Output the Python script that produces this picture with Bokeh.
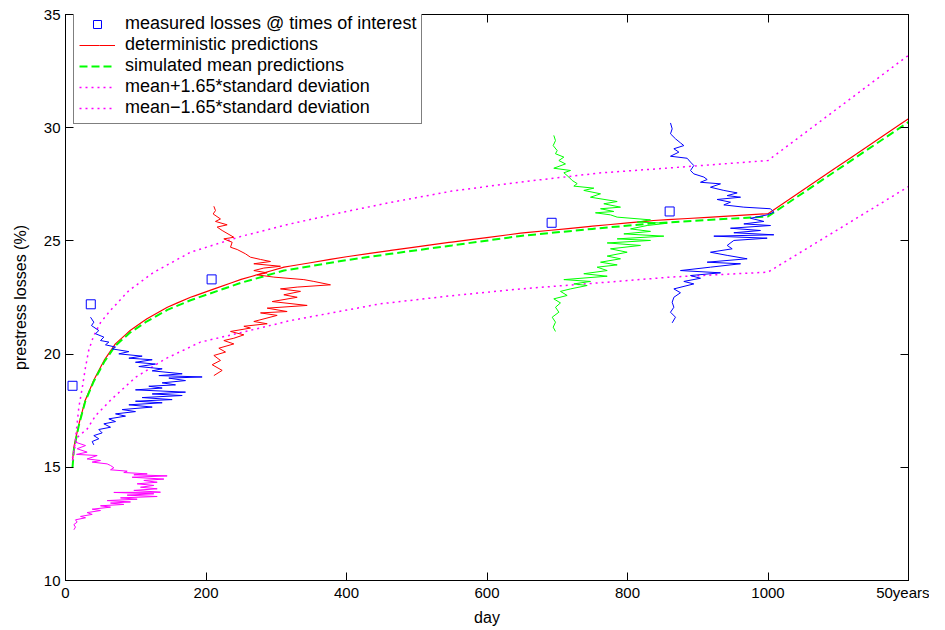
from bokeh.plotting import figure
from bokeh.models import Legend, LegendItem, LinearAxis, FixedTicker, Range1d
from bokeh.embed import file_html
from bokeh.resources import INLINE

FONT = "Liberation Sans"

# ---------------- data ----------------
x_ticks = [0, 200, 400, 600, 800, 1000, 1200]
x_tick_labels = {1200: "50years"}
y_ticks = [10, 15, 20, 25, 30, 35]

meas_day = [10, 36, 208, 692, 860]
meas_val = [18.6, 22.2, 23.3, 25.8, 26.3]

det_day = [10, 12, 19, 28, 40, 55, 71, 92, 116, 145, 178, 250, 311, 400, 463, 550, 648, 750, 837, 1000, 1200]
det_val = [15.3, 15.9, 16.9, 17.95, 18.83, 19.72, 20.45, 21.04, 21.56, 22.07, 22.51, 23.3, 23.84, 24.3,
           24.58, 24.95, 25.34, 25.65, 25.9, 26.2, 30.4]

sim_day = [10, 12, 19, 28, 40, 55, 71, 92, 116, 145, 178, 250, 311, 400, 463, 550, 648, 750, 837, 1000, 1200]
sim_val = [15.0, 15.8, 16.85, 17.9, 18.78, 19.65, 20.37, 20.95, 21.45, 21.95, 22.38, 23.15, 23.69, 24.15,
           24.43, 24.8, 25.22, 25.53, 25.78, 26.08, 30.25]

up_day = [10, 13, 16, 19, 24, 28.5, 33, 40, 50, 64, 90, 125, 178, 250, 320, 400, 463, 550, 648, 760, 850, 1000, 1200]
up_val = [15.4, 15.9, 16.77, 17.65, 18.54, 19.42, 20.16, 20.8, 21.4, 21.93, 22.8, 23.6, 24.5, 25.2, 25.75,
          26.3, 26.7, 27.2, 27.6, 28.0, 28.2, 28.55, 33.2]

lo_day = [10, 12, 17, 31, 43, 66, 100, 142, 192, 250, 320, 448, 550, 648, 760, 861, 1000, 1200]
lo_val = [15.3, 15.74, 16.33, 16.7, 17.29, 18.02, 18.98, 19.79, 20.53, 20.95, 21.48, 22.22, 22.58, 22.88,
          23.15, 23.4, 23.62, 27.4]

# sampled distributions drawn at the times of interest
dist1_day = [14.2, 28.5, 16.6, 30.8, 15.7, 45.1, 30.8, 49.8, 38.0, 59.3, 64.1, 68.8, 64.1, 87.8, 83.0, 116.3,
             97.3, 144.7, 94.9, 140.0, 111.5, 130.5, 102.0, 125.7, 106.8, 130.5, 97.3, 135.2, 68.8, 125.7,
             87.8, 130.5, 78.3, 102.0, 59.3, 92.5, 64.1, 83.0, 49.8, 64.1, 38.0, 49.8, 30.8, 38.0, 21.4,
             28.5, 14.2, 16.6, 11.9, 14.2, 11.9]
dist1_val = [16.11, 15.96, 15.82, 15.67, 15.57, 15.52, 15.37, 15.30, 15.23, 15.15, 15.08, 14.98, 14.89, 14.83,
             14.77, 14.71, 14.67, 14.62, 14.56, 14.48, 14.42, 14.34, 14.27, 14.20, 14.12, 14.05, 13.98, 13.90,
             13.89, 13.83, 13.77, 13.71, 13.65, 13.59, 13.53, 13.47, 13.42, 13.36, 13.30, 13.24, 13.15, 13.09,
             13.00, 12.92, 12.83, 12.77, 12.68, 12.58, 12.47, 12.36, 12.24]

dist2_day = [35.6, 40.3, 37.0, 47.4, 42.7, 54.6, 49.8, 61.7, 56.9, 71.2, 66.4, 90.2, 75.9, 109.1, 90.2, 123.4,
             99.6, 128.1, 104.4, 137.6, 123.4, 166.1, 132.9, 194.5, 147.1, 170.8, 137.6, 156.6, 118.6, 137.6,
             99.6, 170.8, 123.4, 166.1, 109.1, 151.8, 99.6, 137.6, 90.2, 123.4, 80.7, 99.6, 71.2, 85.4, 61.7,
             71.2, 54.6, 64.1, 47.4, 52.2, 40.3, 47.4, 38.0, 40.3]
dist2_val = [21.63, 21.41, 21.26, 21.04, 20.90, 20.75, 20.60, 20.53, 20.41, 20.31, 20.23, 20.11, 20.01, 19.91,
             19.82, 19.75, 19.64, 19.56, 19.45, 19.35, 19.26, 19.13, 19.05, 18.99, 18.94, 18.83, 18.73, 18.64,
             18.58, 18.50, 18.42, 18.32, 18.24, 18.17, 18.08, 17.99, 17.92, 17.85, 17.76, 17.66, 17.55, 17.46,
             17.36, 17.26, 17.14, 17.02, 16.92, 16.77, 16.67, 16.52, 16.40, 16.26, 16.14, 15.99]

dist3_day = [211.2, 213.5, 210.2, 220.6, 213.5, 230.1, 215.9, 223.0, 239.6, 225.4, 237.2, 234.9, 244.4, 256.2,
             263.3, 277.6, 291.8, 268.1, 306.0, 282.3, 268.1, 287.1, 272.8, 296.6, 339.3, 353.5, 377.2, 329.8,
             306.0, 334.5, 310.8, 329.8, 294.2, 344.0, 287.1, 315.5, 277.6, 301.3, 268.1, 287.1, 253.9, 263.3,
             234.9, 253.9, 239.6, 225.4, 239.6, 218.3, 227.8, 211.2, 220.6, 208.8, 223.0, 211.2]
dist3_val = [26.53, 26.34, 26.19, 25.97, 25.86, 25.71, 25.61, 25.46, 25.16, 25.09, 24.94, 24.72, 24.62, 24.43,
             24.28, 24.18, 24.09, 23.99, 23.88, 23.80, 23.69, 23.59, 23.50, 23.40, 23.29, 23.21, 23.06, 22.96,
             22.88, 22.77, 22.62, 22.51, 22.32, 22.15, 22.03, 21.88, 21.82, 21.71, 21.44, 21.34, 21.23, 21.15,
             21.00, 20.85, 20.70, 20.60, 20.45, 20.26, 20.09, 19.94, 19.72, 19.53, 19.28, 19.05]

dist4_day = [695.1, 697.5, 694.2, 699.9, 697.5, 709.4, 702.3, 711.7, 695.1, 718.9, 709.4, 716.5, 721.2, 728.4,
             723.6, 752.1, 737.8, 761.6, 747.3, 785.3, 766.3, 790.0, 761.6, 780.5, 754.4, 775.8, 785.3, 832.7,
             813.8, 856.5, 828.0, 804.3, 832.7, 794.8, 851.7, 785.3, 832.7, 771.1, 818.5, 775.8, 799.5, 771.1,
             790.0, 761.6, 785.3, 756.8, 771.1, 737.8, 771.1, 709.4, 747.3, 723.6, 742.6, 718.9, 704.6, 714.1,
             695.1, 704.6, 697.5, 702.3, 692.8, 697.5, 694.2, 697.5]
dist4_val = [29.66, 29.43, 29.21, 28.99, 28.85, 28.70, 28.55, 28.40, 28.21, 28.11, 28.01, 27.82, 27.67, 27.53,
             27.42, 27.33, 27.23, 27.08, 26.93, 26.74, 26.64, 26.49, 26.42, 26.30, 26.24, 26.15, 26.05, 25.93,
             25.83, 25.78, 25.68, 25.53, 25.42, 25.31, 25.21, 25.09, 25.02, 24.91, 24.80, 24.65, 24.50, 24.33,
             24.21, 24.06, 23.94, 23.84, 23.69, 23.55, 23.44, 23.29, 23.21, 23.10, 23.03, 22.88, 22.77, 22.59,
             22.44, 22.26, 22.07, 21.85, 21.63, 21.41, 21.19, 21.00]

dist5_day = [861.2, 863.6, 861.2, 868.3, 875.4, 880.2, 866.0, 873.1, 861.2, 884.9, 889.7, 894.4, 889.7, 894.4,
             908.7, 913.4, 903.9, 932.4, 918.1, 937.1, 956.1, 941.9, 960.9, 927.6, 946.6, 937.1, 965.6, 1003.6,
             1008.3, 998.8, 975.1, 994.1, 965.6, 1003.6, 946.6, 989.3, 951.4, 1008.3, 922.9, 998.8, 951.4, 941.9,
             949.0, 918.1, 941.9, 970.3, 913.4, 960.9, 918.1, 875.4, 932.4, 889.7, 903.9, 880.2, 894.4, 866.0,
             875.4, 866.0, 863.6, 866.0, 861.2, 868.3, 863.6]
dist5_val = [30.21, 29.95, 29.73, 29.51, 29.33, 29.21, 29.07, 28.92, 28.74, 28.65, 28.48, 28.33, 28.11, 27.96,
             27.82, 27.71, 27.59, 27.52, 27.37, 27.23, 27.12, 27.00, 26.93, 26.83, 26.71, 26.59, 26.49, 26.42,
             26.27, 26.15, 26.00, 25.86, 25.75, 25.68, 25.56, 25.46, 25.36, 25.27, 25.21, 25.12, 25.02, 24.80,
             24.65, 24.50, 24.36, 24.21, 24.06, 23.99, 23.84, 23.69, 23.59, 23.47, 23.35, 23.21, 23.10, 22.88,
             22.71, 22.51, 22.29, 22.07, 21.85, 21.63, 21.38]

# ---------------- figure ----------------
p = figure(frame_width=843, frame_height=566,
           min_border_left=65, min_border_top=14, min_border_right=21, min_border_bottom=40,
           x_range=Range1d(0, 1200), y_range=Range1d(10, 35),
           output_backend="svg", toolbar_location=None,
           background_fill_color="white", border_fill_color="white")
p.grid.visible = False
p.outline_line_color = "black"
p.outline_line_width = 1

BLUE, RED, GREEN, MAG = "#0000ff", "#ff0000", "#00ff00", "#ff00ff"

r_det = p.line(det_day, det_val, line_color=RED, line_width=1.2, line_dash="20 0")
r_sim = p.line(sim_day, sim_val, line_color=GREEN, line_width=2, line_dash="8 4")
r_up = p.line(up_day, up_val, line_color=MAG, line_width=1.5, line_dash="2 4")
r_lo = p.line(lo_day, lo_val, line_color=MAG, line_width=1.5, line_dash="2 4")

p.line(dist1_day, dist1_val, line_color=MAG, line_width=1)
p.line(dist2_day, dist2_val, line_color=BLUE, line_width=1)
p.line(dist3_day, dist3_val, line_color=RED, line_width=1)
p.line(dist4_day, dist4_val, line_color=GREEN, line_width=1)
p.line(dist5_day, dist5_val, line_color=BLUE, line_width=1)

r_meas = p.scatter(meas_day, meas_val, marker="square", size=9, fill_color=None,
                   line_color=BLUE, line_width=1)

# ---------------- axes ----------------
def style_axis(ax, show_labels=True):
    ax.major_tick_in = 8
    ax.major_tick_out = 0
    ax.minor_tick_in = 0
    ax.minor_tick_out = 0
    ax.axis_line_color = "black"
    ax.major_tick_line_color = "black"
    ax.major_label_text_font = FONT
    ax.major_label_text_color = "black"
    if show_labels:
        ax.major_label_text_font_size = "15px"
        ax.major_label_standoff = 3
    else:
        ax.major_label_text_font_size = "0px"
        ax.major_label_standoff = 0

p.xaxis.ticker = FixedTicker(ticks=x_ticks)
p.xaxis.major_label_overrides = x_tick_labels
p.yaxis.ticker = FixedTicker(ticks=y_ticks)
for ax in p.xaxis + p.yaxis:
    style_axis(ax)
    ax.axis_label_text_font = FONT
    ax.axis_label_text_font_size = "16px"
    ax.axis_label_text_font_style = "normal"
    ax.axis_label_text_color = "black"
p.xaxis.axis_label = "day"
p.yaxis.axis_label = "prestress losses (%)"
p.xaxis.axis_label_standoff = 5
p.yaxis.major_label_standoff = 5
p.yaxis.axis_label_standoff = 12

top = LinearAxis(ticker=FixedTicker(ticks=x_ticks))
style_axis(top, show_labels=False)
top.major_label_overrides = {t: "" for t in x_ticks}
p.add_layout(top, "above")
right = LinearAxis(ticker=FixedTicker(ticks=y_ticks))
style_axis(right, show_labels=False)
right.major_label_overrides = {t: "" for t in y_ticks}
p.add_layout(right, "right")

# ---------------- legend ----------------
legend = Legend(items=[
    LegendItem(label="measured losses @ times of interest", renderers=[r_meas]),
    LegendItem(label="deterministic predictions", renderers=[r_det]),
    LegendItem(label="simulated mean predictions", renderers=[r_sim]),
    LegendItem(label="mean+1.65*standard deviation", renderers=[r_up]),
    LegendItem(label="mean\u22121.65*standard deviation", renderers=[r_lo]),
], location=(8, 456))
legend.label_text_font = FONT
legend.label_text_font_size = "18px"
legend.label_text_color = "black"
legend.glyph_width = 36
legend.glyph_height = 20
legend.label_height = 20
legend.label_standoff = 10
legend.padding = 5
legend.spacing = 0
legend.margin = 0
legend.border_line_color = "black"
legend.border_line_width = 1
legend.background_fill_color = "white"
legend.background_fill_alpha = 1
p.add_layout(legend, "center")

open("out.html", "w").write(file_html(p, INLINE))
